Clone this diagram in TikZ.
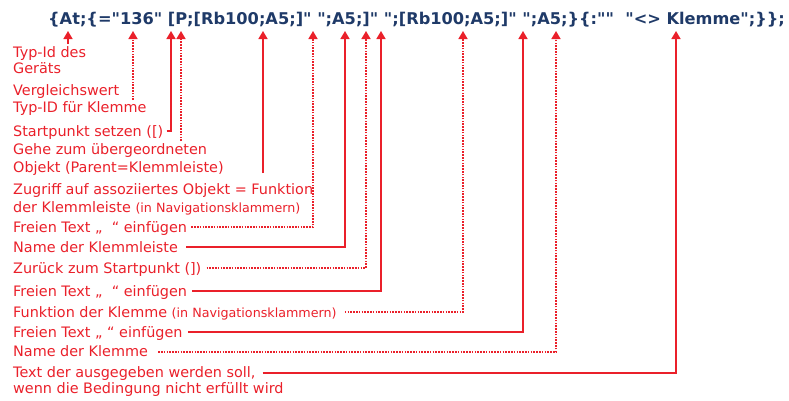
\documentclass[tikz,border=0pt]{standalone}
\usepackage{fontspec}
\setmainfont{DejaVu Sans}
\newfontfamily\codefont{DejaVu Sans Bold}[Ligatures=TeXOff]
\newcommand\navtxt{\fontsize{12.7}{14}\selectfont}
\usetikzlibrary{arrows.meta}
\definecolor{lred}{RGB}{234,32,42}
\definecolor{cblue}{RGB}{31,58,104}
\begin{document}
\begin{tikzpicture}[x=1pt,y=-1pt,
  lab/.style={anchor=base west,inner sep=0pt,text=lred,font=\fontsize{14.4}{17}\selectfont},
  con/.style={draw=lred,line width=1.5pt,-{Triangle[length=8pt,width=9pt]}},
  dotcon/.style={con,dash pattern=on 1.6pt off 1.2pt},
]
\useasboundingbox (0,0) rectangle (789,400);
% code line
\node[anchor=base west,inner sep=0pt,text=cblue,font=\fontsize{16.2}{18}\codefont] (code) at (48,24)
  {\{At;\{="136" [P;[Rb100;A5;]" ";A5;]" ";[Rb100;A5;]" ";A5;\}\{:""\ \ "<> Klemme";\}\};};
% tips
\foreach \n/\x in {1/68,2/133,3/171,4/181,5/263,6/313,7/345,8/366,9/381,10/463,11/523,12/556,13/676}
  \coordinate (t\n) at (\x,31);
% labels
\node[lab] (l1) at (13,57) {Typ-Id des};
\node[lab] (l1b) at (13,73) {Geräts};
\node[lab] (l2) at (13,95) {Vergleichswert};
\node[lab] (l2b) at (13,112) {Typ-ID für Klemme};
\node[lab] (l3) at (13,136) {Startpunkt setzen ([)};
\node[lab] (l4) at (13,154) {Gehe zum übergeordneten};
\node[lab] (l4b) at (13,172) {Objekt (Parent=Klemmleiste)};
\node[lab] (l5) at (13,194) {Zugriff auf assoziiertes Objekt = Funktion};
\node[lab] (l5b) at (13,212) {der Klemmleiste {\navtxt(in Navigationsklammern)}};
\node[lab] (l6) at (13,232) {Freien Text „\ \ “ einfügen};
\node[lab] (l7) at (13,252) {Name der Klemmleiste};
\node[lab] (l8) at (13,273) {Zurück zum Startpunkt (])};
\node[lab] (l9) at (13,296) {Freien Text „\ \ “ einfügen};
\node[lab] (l10) at (13,317) {Funktion der Klemme {\navtxt(in Navigationsklammern)}};
\node[lab] (l11) at (13,337) {Freien Text „ “ einfügen};
\node[lab] (l12) at (13,356) {Name der Klemme};
\node[lab] (l13) at (13,377) {Text der ausgegeben werden soll,};
\node[lab] (l13b) at (13,393) {wenn die Bedingung nicht erfüllt wird};
% free ends
\coordinate (s1) at (68,44);
\coordinate (s2) at (133,100);
\coordinate (s4) at (181,141);
\coordinate (s5) at (263,173);
% connectors
\draw[con] (s1) -- (t1);
\draw[dotcon] (s2) -- (t2);
\draw[con] ([xshift=3pt,yshift=5pt]l3.base east) -| (t3);
\draw[dotcon] (s4) -- (t4);
\draw[con] (s5) -- (t5);
\draw[dotcon] ([xshift=4pt,yshift=5pt]l6.base east) -| (t6);
\draw[con] ([xshift=8pt,yshift=5pt]l7.base east) -| (t7);
\draw[dotcon] ([xshift=5pt,yshift=5pt]l8.base east) -| (t8);
\draw[con] ([xshift=5pt,yshift=5pt]l9.base east) -| (t9);
\draw[dotcon] ([xshift=8pt,yshift=5pt]l10.base east) -| (t10);
\draw[con] ([xshift=5pt,yshift=5pt]l11.base east) -| (t11);
\draw[dotcon] ([xshift=10pt,yshift=4pt]l12.base east) -| (t12);
\draw[con] ([xshift=7pt,yshift=4pt]l13.base east) -| (t13);
\end{tikzpicture}
\end{document}
